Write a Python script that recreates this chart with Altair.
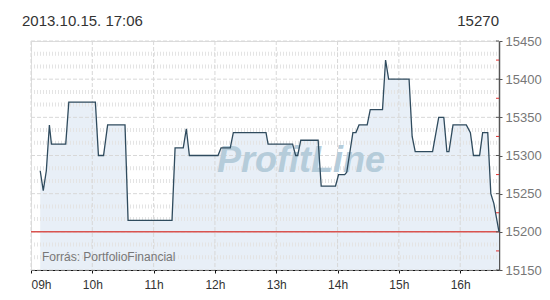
import altair as alt
import pandas as pd

# ---- data ----
times = ["09:09", "09:12", "09:15", "09:18", "09:20", "09:34", "09:37", "10:03", "10:06", "10:11",
         "10:15", "10:32", "10:35", "11:18", "11:21", "11:29", "11:32", "11:35", "12:03", "12:06",
         "12:15", "12:18", "12:50", "12:52", "13:16", "13:19", "13:21", "13:24", "13:41", "13:44",
         "13:58", "14:01", "14:07", "14:09", "14:15", "14:18", "14:21", "14:29", "14:32", "14:44",
         "14:47", "14:50", "15:10", "15:13", "15:16", "15:33", "15:35", "15:39", "15:44", "15:47",
         "15:49", "15:53", "16:06", "16:10", "16:13", "16:19", "16:22", "16:27", "16:30", "16:33",
         "16:38"]
values = [15280, 15254, 15280, 15340, 15315, 15315, 15370, 15370, 15300, 15300,
          15340, 15340, 15215, 15215, 15310, 15310, 15335, 15300, 15300, 15310,
          15310, 15330, 15330, 15315, 15315, 15300, 15300, 15320, 15320, 15260,
          15260, 15275, 15275, 15278, 15330, 15330, 15340, 15340, 15360, 15360,
          15425, 15400, 15400, 15325, 15305, 15305, 15320, 15350, 15350, 15305,
          15305, 15340, 15340, 15330, 15300, 15300, 15330, 15330, 15250, 15237,
          15200]
day = "2013-10-15"
title_left = "2013.10.15. 17:06"
title_right = "15270"
source_text = "Forrás: PortfolioFinancial"
watermark = "ProfitLine"
prev_close = [15200]
hours = [9, 10, 11, 12, 13, 14, 15, 16]
y_ticks = [15150, 15200, 15250, 15300, 15350, 15400, 15450]
y_mid_ticks = [15175, 15225, 15275, 15325, 15375, 15425]
y_minor = [round(15150 + k * 50 / 3, 2) for k in range(1, 18) if k % 3 != 0]

W, H = 468, 229
FONT = "Liberation Sans"

df = pd.DataFrame({"t": [f"{day}T{t}:00" for t in times], "v": values})
df_hours = pd.DataFrame({"t": [f"{day}T{h:02d}:00:00" for h in hours]})
df_major = pd.DataFrame({"v": y_ticks})
df_mid = pd.DataFrame({"v": y_mid_ticks})
df_minor = pd.DataFrame({"v": y_minor})
df_prev = pd.DataFrame({"v": prev_close})

xscale = alt.Scale(domain=[alt.DateTime(year=2013, month=10, date=15, hours=9, minutes=0),
                           alt.DateTime(year=2013, month=10, date=15, hours=16, minutes=38)])
yscale = alt.Scale(domain=[15150, 15450], nice=False, zero=False)

x_axis = alt.Axis(values=[alt.DateTime(year=2013, month=10, date=15, hours=h) for h in hours],
                  format="%Hh", grid=False, title=None, domainColor="#111", tickColor="#111",
                  tickSize=3, labelColor="#333", labelFont=FONT, labelFontSize=12,
                  labelPadding=6)
y_axis = alt.Axis(orient="right", values=y_ticks, format="d", grid=False, title=None,
                  domainColor="#555", domainWidth=1.5, tickColor="#555", tickSize=3,
                  labelColor="#777", labelFont=FONT, labelFontSize=13, labelPadding=3)


def X(field="t:T"):
    return alt.X(field, scale=xscale, axis=x_axis)


def Y(field="v:Q"):
    return alt.Y(field, scale=yscale, axis=y_axis)


area = alt.Chart(df).mark_area(color="#e8eff7", opacity=1, clip=True).encode(
    x=X(), y=Y(), y2=alt.datum(15150))

minor = alt.Chart(df_minor).mark_rule(color="#e4e4e4", strokeWidth=4, strokeDash=[1, 2]).encode(
    y=Y(), x=alt.value(0), x2=alt.value(W))

major = alt.Chart(df_major).mark_rule(color="#d8d8d8", strokeWidth=1, strokeDash=[4, 2]).encode(
    y=Y(), x=alt.value(0), x2=alt.value(W))

vgrid = alt.Chart(df_hours).mark_rule(color="#d8d8d8", strokeWidth=1, strokeDash=[4, 2]).encode(
    x=X(), y=alt.value(0), y2=alt.value(H))

wm = alt.Chart(pd.DataFrame({"s": [watermark]})).mark_text(
    font=FONT, fontSize=36, fontWeight="bold", fontStyle="italic", color="#b5ccda",
    align="center", baseline="alphabetic").encode(
    text="s:N", x=alt.value(270), y=alt.value(131))

prev = alt.Chart(df_prev).mark_rule(color="#d9534f", strokeWidth=1.5).encode(
    y=Y(), x=alt.value(0), x2=alt.value(W))

line = alt.Chart(df).mark_line(color="#2f4b5e", strokeWidth=1.3).encode(x=X(), y=Y())

mid_ticks = alt.Chart(df_mid).mark_rule(color="#e03030", strokeWidth=1).encode(
    y=Y(), x=alt.value(W - 3), x2=alt.value(W))
in_ticks = alt.Chart(df_major).mark_rule(color="#555", strokeWidth=1).encode(
    y=Y(), x=alt.value(W - 3), x2=alt.value(W))

src = alt.Chart(pd.DataFrame({"s": [source_text]})).mark_text(
    font=FONT, fontSize=12, color="#777", align="left", baseline="alphabetic").encode(
    text="s:N", x=alt.value(11), y=alt.value(220))

tl = alt.Chart(pd.DataFrame({"s": [title_left]})).mark_text(
    font=FONT, fontSize=15, color="#333", align="left", baseline="alphabetic").encode(
    text="s:N", x=alt.value(-9), y=alt.value(-15))

tr = alt.Chart(pd.DataFrame({"s": [title_right]})).mark_text(
    font=FONT, fontSize=15, color="#333", align="right", baseline="alphabetic").encode(
    text="s:N", x=alt.value(W), y=alt.value(-15))

chart = alt.layer(area, minor, major, vgrid, wm, prev, line, mid_ticks, in_ticks, src, tl, tr).properties(
    width=W, height=H,
    autosize=alt.AutoSizeParams(type="none"),
    padding={"left": 31, "top": 41, "right": 51, "bottom": 30},
).configure_view(stroke=None).configure(background="white")

chart.save("out.html", embed_options={"renderer": "svg", "actions": False})
